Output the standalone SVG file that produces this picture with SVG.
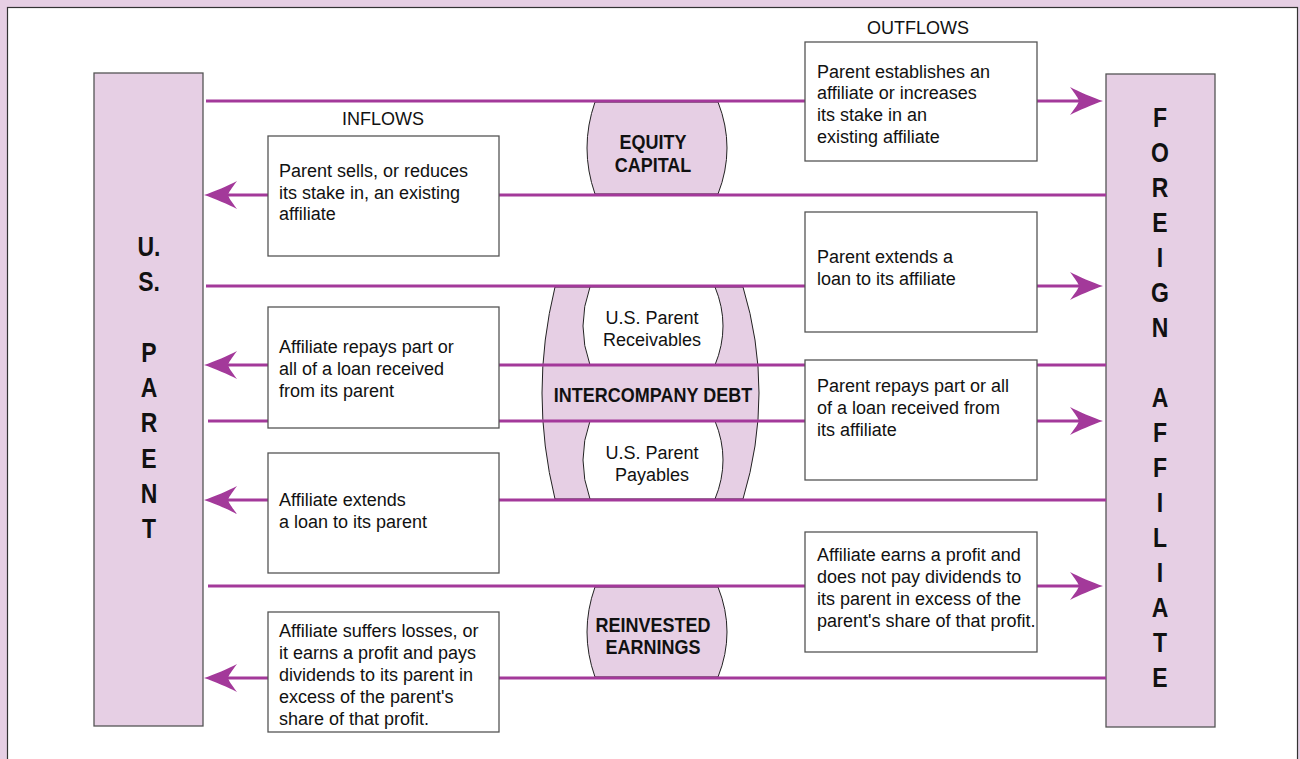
<svg xmlns="http://www.w3.org/2000/svg" width="1300" height="759" viewBox="0 0 1300 759">
<style>
.bg{fill:#e6cfe4}
.panel{fill:#ffffff;stroke:#333333;stroke-width:1.2}
.side{fill:#e6cfe4;stroke:#555555;stroke-width:1.3}
.box{fill:#ffffff;stroke:#555555;stroke-width:1.3}
.barrel{fill:#e6cfe4;stroke:#222222;stroke-width:1}
.inner{fill:#ffffff;stroke:#222222;stroke-width:1}
.flow{fill:none;stroke:#a3399a;stroke-width:3}
.t{font-family:"Liberation Sans",Arial,sans-serif;font-size:18px;fill:#111111}
.b{font-family:"Liberation Sans",Arial,sans-serif;font-size:18px;font-weight:bold;fill:#111111;text-anchor:middle}
.c{text-anchor:middle}
.v{font-family:"Liberation Sans",Arial,sans-serif;font-size:23px;font-weight:bold;fill:#111111;text-anchor:middle}
</style>
<defs>
<marker id="ah" markerUnits="userSpaceOnUse" viewBox="-35 -15 37 30" markerWidth="37" markerHeight="30" refX="-20" refY="0" orient="auto">
<path d="M0,0 C-10,-3 -25,-10 -33,-14 C-27,-6 -25,-3 -24,0 C-25,3 -27,6 -33,14 C-25,10 -10,3 0,0 Z" fill="#a3399a"/>
</marker>
</defs>
<rect class="bg" x="0" y="0" width="1300" height="759"/>
<rect class="panel" x="7.5" y="7.5" width="1290" height="770"/>

<g id="us-parent">
<rect class="side" x="94" y="73" width="109" height="653"/>
<text class="v" transform="matrix(1 0 0 1.18 149 256)">U.</text>
<text class="v" transform="matrix(1 0 0 1.18 149 291)">S.</text>
<text class="v" transform="matrix(1 0 0 1.18 149 362)">P</text>
<text class="v" transform="matrix(1 0 0 1.18 149 397)">A</text>
<text class="v" transform="matrix(1 0 0 1.18 149 432)">R</text>
<text class="v" transform="matrix(1 0 0 1.18 149 468)">E</text>
<text class="v" transform="matrix(1 0 0 1.18 149 503)">N</text>
<text class="v" transform="matrix(1 0 0 1.18 149 538)">T</text>
</g>

<g id="foreign-affiliate">
<rect class="side" x="1106" y="74" width="109" height="653"/>
<text class="v" transform="matrix(1 0 0 1.18 1160 127)">F</text>
<text class="v" transform="matrix(1 0 0 1.18 1160 162)">O</text>
<text class="v" transform="matrix(1 0 0 1.18 1160 197)">R</text>
<text class="v" transform="matrix(1 0 0 1.18 1160 232)">E</text>
<text class="v" transform="matrix(1 0 0 1.18 1160 267)">I</text>
<text class="v" transform="matrix(1 0 0 1.18 1160 302)">G</text>
<text class="v" transform="matrix(1 0 0 1.18 1160 337)">N</text>
<text class="v" transform="matrix(1 0 0 1.18 1160 407)">A</text>
<text class="v" transform="matrix(1 0 0 1.18 1160 442)">F</text>
<text class="v" transform="matrix(1 0 0 1.18 1160 477)">F</text>
<text class="v" transform="matrix(1 0 0 1.18 1160 512)">I</text>
<text class="v" transform="matrix(1 0 0 1.18 1160 547)">L</text>
<text class="v" transform="matrix(1 0 0 1.18 1160 582)">I</text>
<text class="v" transform="matrix(1 0 0 1.18 1160 617)">A</text>
<text class="v" transform="matrix(1 0 0 1.18 1160 652)">T</text>
<text class="v" transform="matrix(1 0 0 1.18 1160 687)">E</text>
</g>

<g id="equity-capital">
<path class="barrel" d="M595,102 L718,102 Q736,148 718,194 L595,194 Q579,148 595,102 Z"/>
<text class="b" transform="matrix(1 0 0 1.12 653 149)">EQUITY</text>
<text class="b" transform="matrix(1 0 0 1.12 653 172)">CAPITAL</text>
</g>

<g id="intercompany-debt">
<path class="barrel" d="M555,287 L743,287 Q775,393 743,499 L555,499 Q529,393 555,287 Z"/>
<path class="inner" d="M590,287 L715,287 Q731,326 715,365 L590,365 Q576,326 590,287 Z"/>
<path class="inner" d="M590,421 L715,421 Q731,460 715,499 L590,499 Q576,460 590,421 Z"/>
<text class="b" transform="matrix(1 0 0 1.12 653 402)">INTERCOMPANY DEBT</text>
<text class="t c" x="652" y="324">U.S. Parent</text>
<text class="t c" x="652" y="346">Receivables</text>
<text class="t c" x="652" y="459">U.S. Parent</text>
<text class="t c" x="652" y="481">Payables</text>
</g>

<g id="reinvested-earnings">
<path class="barrel" d="M595,587 L718,587 Q736,632 718,677 L595,677 Q579,632 595,587 Z"/>
<text class="b" transform="matrix(1 0 0 1.12 653 632)">REINVESTED</text>
<text class="b" transform="matrix(1 0 0 1.12 653 654)">EARNINGS</text>
</g>

<g id="connectors">
<line class="flow" x1="206" y1="101" x2="1083" y2="101" marker-end="url(#ah)"/>
<line class="flow" x1="1106" y1="195" x2="224" y2="195" marker-end="url(#ah)"/>
<line class="flow" x1="206" y1="286" x2="1083" y2="286" marker-end="url(#ah)"/>
<line class="flow" x1="1106" y1="365" x2="224" y2="365" marker-end="url(#ah)"/>
<line class="flow" x1="208" y1="421" x2="1083" y2="421" marker-end="url(#ah)"/>
<line class="flow" x1="1106" y1="500" x2="224" y2="500" marker-end="url(#ah)"/>
<line class="flow" x1="208" y1="586" x2="1083" y2="586" marker-end="url(#ah)"/>
<line class="flow" x1="1106" y1="678" x2="224" y2="678" marker-end="url(#ah)"/>
</g>

<g id="labels">
<text class="t c" x="918" y="34">OUTFLOWS</text>
<text class="t c" x="383" y="125">INFLOWS</text>
</g>

<g id="out-equity">
<rect class="box" x="805" y="42" width="232" height="119"/>
<text class="t" x="817" y="78">Parent establishes an</text>
<text class="t" x="817" y="99">affiliate or increases</text>
<text class="t" x="817" y="121">its stake in an</text>
<text class="t" x="817" y="143">existing affiliate</text>
</g>

<g id="in-equity">
<rect class="box" x="268" y="136" width="231" height="120"/>
<text class="t" x="279" y="177">Parent sells, or reduces</text>
<text class="t" x="279" y="199">its stake in, an existing</text>
<text class="t" x="279" y="220">affiliate</text>
</g>

<g id="out-loan">
<rect class="box" x="805" y="212" width="232" height="120"/>
<text class="t" x="817" y="263">Parent extends a</text>
<text class="t" x="817" y="285">loan to its affiliate</text>
</g>

<g id="in-repay">
<rect class="box" x="268" y="307" width="231" height="121"/>
<text class="t" x="279" y="353">Affiliate repays part or</text>
<text class="t" x="279" y="375">all of a loan received</text>
<text class="t" x="279" y="397">from its parent</text>
</g>

<g id="out-repay">
<rect class="box" x="805" y="360" width="232" height="120"/>
<text class="t" x="817" y="392">Parent repays part or all</text>
<text class="t" x="817" y="414">of a loan received from</text>
<text class="t" x="817" y="436">its affiliate</text>
</g>

<g id="in-loan">
<rect class="box" x="268" y="453" width="231" height="120"/>
<text class="t" x="279" y="506">Affiliate extends</text>
<text class="t" x="279" y="528">a loan to its parent</text>
</g>

<g id="out-earnings">
<rect class="box" x="805" y="532" width="232" height="120"/>
<text class="t" x="817" y="561">Affiliate earns a profit and</text>
<text class="t" x="817" y="583">does not pay dividends to</text>
<text class="t" x="817" y="605">its parent in excess of the</text>
<text class="t" x="817" y="627">parent's share of that profit.</text>
</g>

<g id="in-earnings">
<rect class="box" x="268" y="612" width="231" height="120"/>
<text class="t" x="279" y="637">Affiliate suffers losses, or</text>
<text class="t" x="279" y="659">it earns a profit and pays</text>
<text class="t" x="279" y="681">dividends to its parent in</text>
<text class="t" x="279" y="703">excess of the parent's</text>
<text class="t" x="279" y="725">share of that profit.</text>
</g>
</svg>
